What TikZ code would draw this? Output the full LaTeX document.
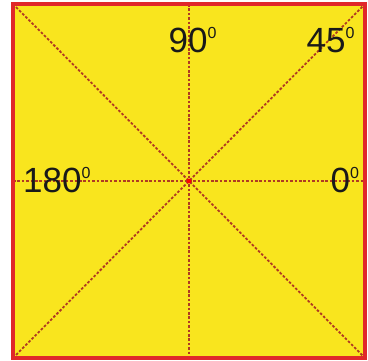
\documentclass[tikz,border=0pt]{standalone}
\usepackage{fontspec}
\setmainfont{Liberation Sans}
\usepackage{xcolor}
\usepackage{tikz}
\usetikzlibrary{calc}
\definecolor{paperyellow}{HTML}{F9E51E}
\definecolor{frameRed}{HTML}{E0282A}
\definecolor{creaseRed}{HTML}{B03A22}
\newcommand{\degmark}{\raisebox{14pt}{\fontsize{16}{16}\selectfont 0}}

\begin{document}
\begin{tikzpicture}[x=1pt, y=-1pt,
    crease/.style={creaseRed, line width=1.8pt, dash pattern=on 2.6pt off 1.8pt},
    anglelbl/.style={inner sep=0pt, anchor=base west, text=black!90,
                     font=\fontsize{35}{35}\selectfont}]
  \useasboundingbox (0,0) rectangle (368,360);
  %% paper square, corners and edge midpoints
  \coordinate (tl) at (13,4);
  \coordinate (tr) at (365,4);
  \coordinate (bl) at (13,358);
  \coordinate (br) at (365,358);
  \coordinate (c) at (189,181);
  \coordinate (top) at (189,4);
  \coordinate (bot) at (189,358);
  \coordinate (lft) at (13,181);
  \coordinate (rgt) at (365,181);
  \fill[paperyellow] (tl) rectangle (br);
  %% folding lines
  \draw[crease] (tl) -- (br);
  \draw[crease] (bl) -- (tr);
  \draw[crease] (top) -- (bot);
  \draw[crease] (lft) -- (rgt);
  \fill[red] (c) circle (2.4pt);
  \draw[frameRed, line width=4pt] (tl) rectangle (br);
  %% angle labels
  \node[anglelbl] (a90)  at (168.5,52)  {90\degmark};
  \node[anglelbl] (a45)  at (306.5,52)  {45\degmark};
  \node[anglelbl] (a180) at (23,192)    {180\degmark};
  \node[anglelbl] (a0)   at (330.5,192) {0\degmark};
\end{tikzpicture}
\end{document}
